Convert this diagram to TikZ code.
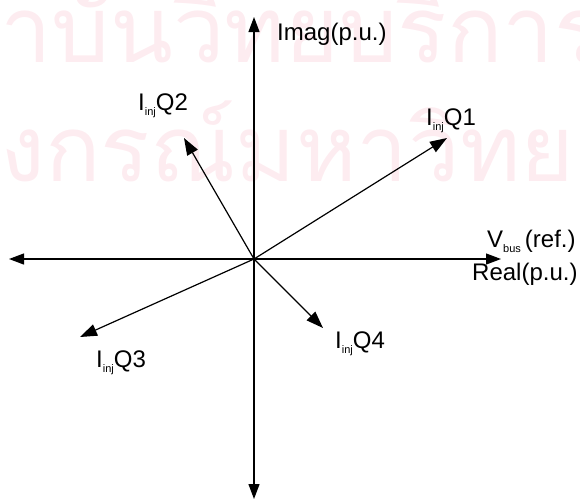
\documentclass[tikz,border=0pt]{standalone}
\usepackage{fontspec}
\setmainfont{Liberation Sans}
\newfontfamily\thaifont[Script=Thai]{Loma}
\usetikzlibrary{arrows.meta}
\definecolor{wm}{RGB}{253,236,240}
\newcommand\lowsub[1]{\raisebox{-5pt}{\fontsize{11pt}{11pt}\selectfont #1}}
\begin{document}
\begin{tikzpicture}[x=1pt,y=-1pt,
  axis/.style={line width=1.2pt,-{Triangle[length=15pt,width=11pt]}},
  vec/.style={line width=1.2pt,-{Triangle[length=17pt,width=12pt]}},
  lbl/.style={inner sep=0pt,anchor=base west,font=\fontsize{24pt}{26pt}\selectfont},
  wmark/.style={inner sep=0pt,text=wm,font=\thaifont\fontsize{92pt}{92pt}\selectfont}]
\useasboundingbox (0,0) rectangle (580,501);
% watermark
\node[wmark,anchor=base east] (w1a) at (0,62) {สถ};
\node[wmark,anchor=base west] (w1b) at (0,62) {าบันวิทยบริการ};
\node[wmark,anchor=base east] (w2a) at (0,181) {จุฬาล};
\node[wmark,anchor=base west] (w2b) at (0,181) {งกรณ์มหาวิทยาลัย};
% axes
\coordinate (O) at (254,259);
\coordinate (top) at (254,17);
\coordinate (bot) at (254,499);
\coordinate (left) at (9,259);
\coordinate (right) at (501,259);
\draw[axis] (O) -- (top);
\draw[axis] (O) -- (bot);
\draw[axis] (O) -- (left);
\draw[axis] (O) -- (right);
% phasors
\coordinate (q1) at (447,138);
\coordinate (q2) at (184,138);
\coordinate (q3) at (80,337);
\coordinate (q4) at (323,328);
\draw[vec] (O) -- (q1);
\draw[vec] (O) -- (q2);
\draw[vec] (O) -- (q3);
\draw[vec] (O) -- (q4);
% labels
\node[lbl] (limag) at (277,40) {Imag(p.u.)};
\node[lbl] (lv) at (487,247) {V\lowsub{bus}\,(ref.)};
\node[lbl] (lreal) at (472,280) {Real(p.u.)};
\node[lbl] (l1) at (426,125) {I\lowsub{inj}Q1};
\node[lbl] (l2) at (138,110) {I\lowsub{inj}Q2};
\node[lbl] (l3) at (96,367) {I\lowsub{inj}Q3};
\node[lbl] (l4) at (335,348) {I\lowsub{inj}Q4};
\end{tikzpicture}
\end{document}
